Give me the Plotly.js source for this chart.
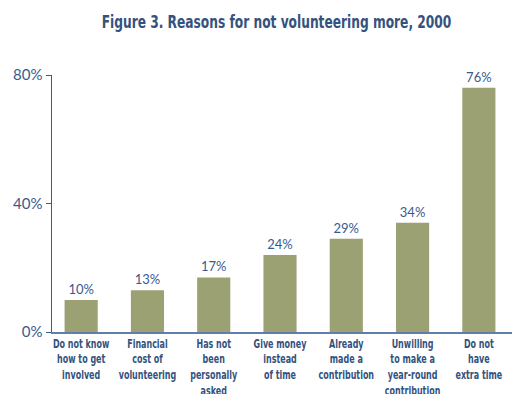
<!DOCTYPE html>
<html>
<head>
<meta charset="utf-8">
<script src="https://cdn.plot.ly/plotly-3.0.1.min.js"></script>
<style>html,body{margin:0;padding:0;background:#fff;}#chart{width:512px;height:394px;}</style>
</head>
<body>
<div id="chart"></div>
<script>
const categories = [
  "Do not know<br>how to get<br>involved",
  "Financial<br>cost of<br>volunteering",
  "Has not<br>been<br>personally<br>asked",
  "Give money<br>instead<br>of time",
  "Already<br>made a<br>contribution",
  "Unwilling<br>to make a<br>year-round<br>contribution",
  "Do not<br>have<br>extra time"
];
const values = [10, 13, 17, 24, 29, 34, 76];
const valueLabels = ["10%", "13%", "17%", "24%", "29%", "34%", "76%"];
const yTickVals = [0, 40, 80];
const yTickText = ["0%", "40%", "80%"];
const titleText = "Figure 3. Reasons for not volunteering more, 2000";

const blue = "#3a5a8c";
const condensed = "'DejaVu Sans Condensed', 'DejaVu Sans', sans-serif";
const trace = {
  type: "bar",
  x: categories,
  y: values,
  text: valueLabels,
  textposition: "outside",
  cliponaxis: false,
  textfont: {family: "Lato, 'Noto Sans', sans-serif", size: 13, color: blue},
  marker: {color: "#9ca174"},
  hoverinfo: "none"
};
const layout = {
  width: 512, height: 394,
  margin: {l: 52, r: 0, t: 75, b: 62},
  paper_bgcolor: "#fff", plot_bgcolor: "#fff",
  showlegend: false,
  bargap: 0.5,
  title: {
    text: "<b>" + titleText + "</b>",
    x: 0.54, xanchor: "center", y: 0.945, yanchor: "middle",
    font: {family: condensed, size: 17, color: "#34527e"}
  },
  xaxis: {
    type: "category",
    range: [-0.44, 6.5],
    showline: true, linecolor: "#5d80ab", linewidth: 1.5,
    ticks: "", showgrid: false, zeroline: false,
    tickfont: {family: condensed, size: 12, color: "#34527e", weight: "bold"},
    tickangle: 0
  },
  yaxis: {
    range: [0, 80],
    tickvals: yTickVals, ticktext: yTickText,
    showline: true, linecolor: "#3a5a8c", linewidth: 1.5,
    ticks: "outside", ticklen: 5, tickcolor: "#3a5a8c", tickwidth: 1,
    showgrid: false, zeroline: false,
    tickfont: {family: "Lato, 'Noto Sans', sans-serif", size: 15, color: blue}
  }
};

function squeeze(root, selector, factor) {
  root.querySelectorAll(selector).forEach(function (el) {
    const bb = el.getBBox();
    const cx = bb.x + bb.width / 2;
    const prev = el.getAttribute("transform") || "";
    el.setAttribute("transform", prev + " translate(" + cx + ",0) scale(" + factor + ",1) translate(" + (-cx) + ",0)");
  });
}

const gd = document.getElementById("chart");
Plotly.newPlot(gd, [trace], layout, {staticPlot: true, displayModeBar: false}).then(function () {
  squeeze(gd, ".xtick text", 0.74);
  squeeze(gd, ".gtitle", 0.8);
});
</script>
</body>
</html>
